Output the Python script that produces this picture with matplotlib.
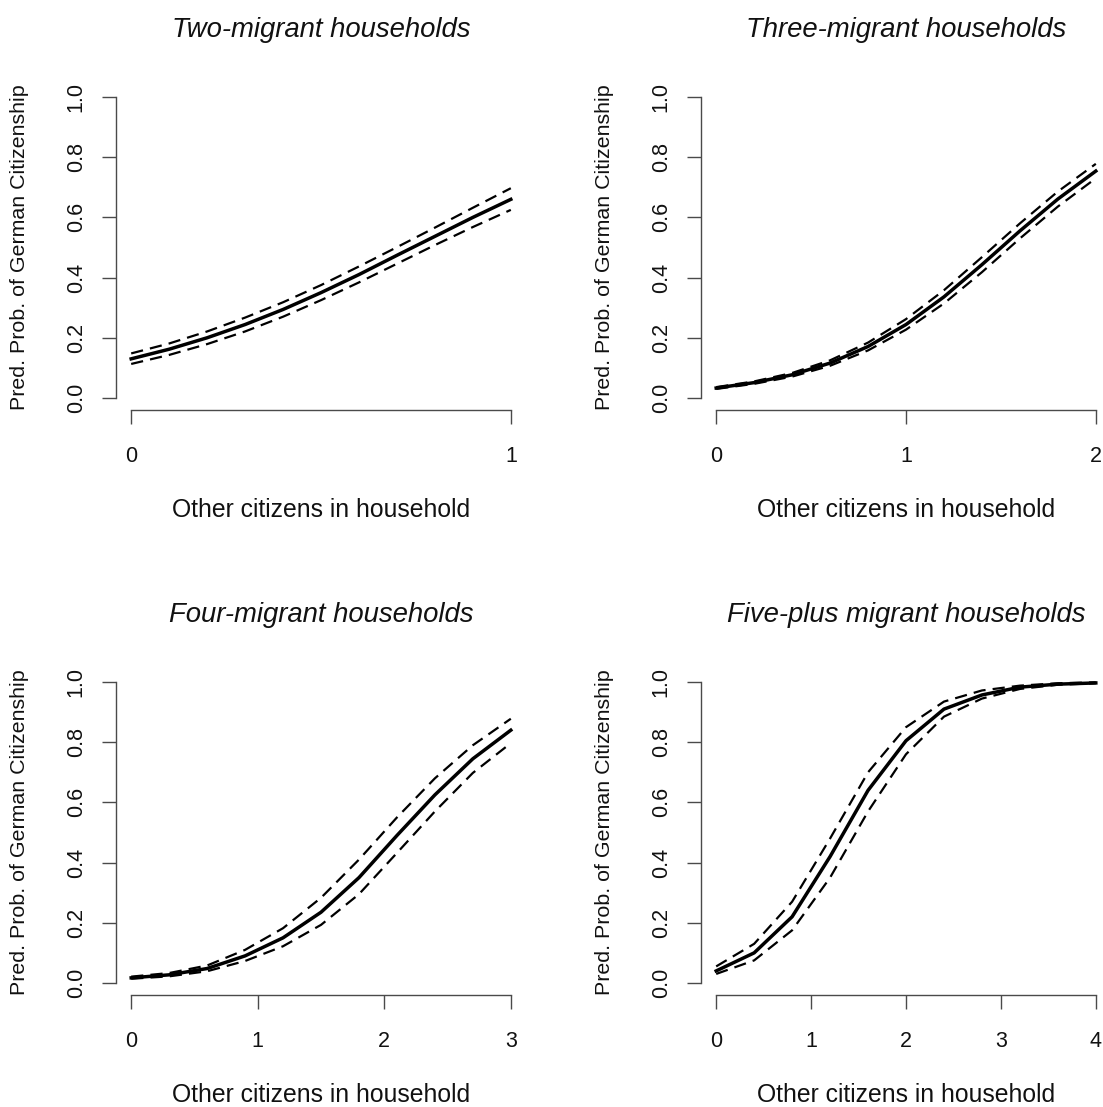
import matplotlib
matplotlib.use("Agg")
import matplotlib.pyplot as plt
import numpy as np

plt.rcParams["font.family"] = ["Liberation Sans", "DejaVu Sans"]

# Predicted probabilities of German citizenship with confidence bounds,
# one panel per household size.
titles = [
    "Two-migrant households",
    "Three-migrant households",
    "Four-migrant households",
    "Five-plus migrant households",
]

x_two = [0.0, 0.1, 0.2, 0.3, 0.4, 0.5, 0.6, 0.7, 0.8, 0.9, 1.0]
mean_two = [0.130, 0.162, 0.200, 0.244, 0.294, 0.350, 0.410, 0.474, 0.537, 0.600, 0.660]
upper_two = [0.148, 0.181, 0.221, 0.267, 0.318, 0.375, 0.437, 0.501, 0.566, 0.632, 0.697]
lower_two = [0.113, 0.143, 0.179, 0.221, 0.270, 0.325, 0.384, 0.446, 0.508, 0.568, 0.625]

x_three = [0.0, 0.2, 0.4, 0.6, 0.8, 1.0, 1.2, 1.4, 1.6, 1.8, 2.0]
mean_three = [0.033, 0.051, 0.077, 0.116, 0.171, 0.244, 0.336, 0.443, 0.555, 0.661, 0.754]
upper_three = [0.036, 0.055, 0.083, 0.125, 0.184, 0.262, 0.358, 0.468, 0.580, 0.686, 0.778]
lower_three = [0.030, 0.047, 0.071, 0.107, 0.158, 0.227, 0.314, 0.418, 0.530, 0.636, 0.730]

x_four = [0.0, 0.3, 0.6, 0.9, 1.2, 1.5, 1.8, 2.1, 2.4, 2.7, 3.0]
mean_four = [0.017, 0.027, 0.048, 0.090, 0.150, 0.235, 0.350, 0.490, 0.625, 0.745, 0.840]
upper_four = [0.021, 0.033, 0.058, 0.110, 0.182, 0.283, 0.410, 0.550, 0.680, 0.790, 0.878]
lower_four = [0.014, 0.022, 0.039, 0.073, 0.122, 0.193, 0.295, 0.432, 0.570, 0.698, 0.797]

x_five = [0.0, 0.4, 0.8, 1.2, 1.6, 2.0, 2.4, 2.8, 3.2, 3.6, 4.0]
mean_five = [0.040, 0.100, 0.220, 0.420, 0.640, 0.805, 0.910, 0.957, 0.983, 0.993, 0.997]
upper_five = [0.055, 0.130, 0.270, 0.480, 0.700, 0.850, 0.935, 0.972, 0.988, 0.996, 0.999]
lower_five = [0.030, 0.075, 0.175, 0.350, 0.570, 0.760, 0.885, 0.945, 0.977, 0.991, 0.996]

panels = [
    (x_two, mean_two, upper_two, lower_two, [0, 1]),
    (x_three, mean_three, upper_three, lower_three, [0, 1, 2]),
    (x_four, mean_four, upper_four, lower_four, [0, 1, 2, 3]),
    (x_five, mean_five, upper_five, lower_five, [0, 1, 2, 3, 4]),
]
y_ticks = [0.0, 0.2, 0.4, 0.6, 0.8, 1.0]

W, H = 1103, 1107
fig = plt.figure(figsize=(W / 100, H / 100), dpi=100)

# plot regions in pixels: (left, top, width, height)
regions = [(116, 85, 410, 325), (701, 85, 410, 325),
           (116, 670, 410, 325), (701, 670, 410, 325)]

axis_col = "#4a4a4a"
txt_col = "#111111"

for (x, m, up, lo, xt), (l, t, w, h), title in zip(panels, regions, titles):
    ax = fig.add_axes([l / W, 1 - (t + h) / H, w / W, h / H])
    ax.patch.set_alpha(0)
    ax.plot(x, m, color="black", lw=2.5, solid_joinstyle="round")
    ax.plot(x, up, color="black", lw=1.6, dashes=(5.5, 3.2))
    ax.plot(x, lo, color="black", lw=1.6, dashes=(5.5, 3.2))

    xr = xt[-1] - xt[0]
    ax.set_xlim(xt[0] - 0.04 * xr, xt[-1] + 0.04 * xr)
    ax.set_ylim(-0.04, 1.04)
    ax.set_xticks(xt)
    ax.set_xticklabels([str(v) for v in xt])
    ax.set_yticks(y_ticks)
    ax.set_yticklabels([f"{v:.1f}" for v in y_ticks], rotation=90, va="center")

    for s in ("top", "right"):
        ax.spines[s].set_visible(False)
    ax.spines["left"].set_bounds(0, 1)
    ax.spines["bottom"].set_bounds(xt[0], xt[-1])
    for s in ("left", "bottom"):
        ax.spines[s].set_color(axis_col)
        ax.spines[s].set_linewidth(1.0)
    ax.tick_params(axis="both", length=10, width=1.0, color=axis_col,
                   labelsize=15.5, labelcolor=txt_col)
    ax.tick_params(axis="x", pad=16)
    ax.tick_params(axis="y", pad=11)

    # label positions measured from the plot region edges (pixels)
    ax.set_xlabel("Other citizens in household", fontsize=17.8, color=txt_col)
    ax.xaxis.set_label_coords(0.5, -100 / h)
    ax.xaxis.label.set_va("center")
    ax.set_ylabel("Pred. Prob. of German Citizenship", fontsize=15.4,
                  color=txt_col)
    ax.yaxis.set_label_coords(-96 / w, 0.5)
    ax.yaxis.label.set_va("center")
    ax.set_title(title, fontsize=19.8, style="italic", color=txt_col,
                 y=1 + 55 / h, va="center", pad=0)

fig.savefig("out.png", dpi=100)
